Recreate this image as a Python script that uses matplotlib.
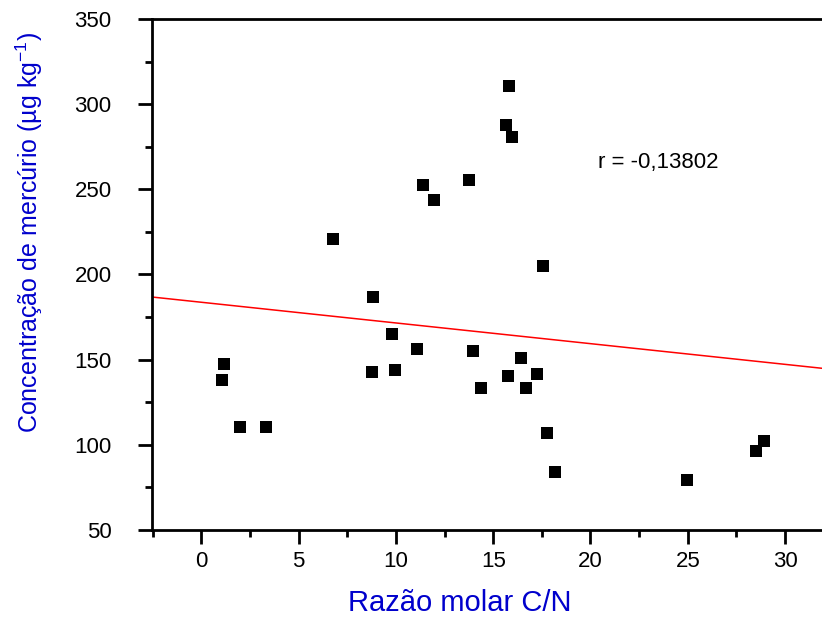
import numpy as np
import matplotlib
matplotlib.use("Agg")
import matplotlib.pyplot as plt
from matplotlib.ticker import MultipleLocator

plt.rcParams['font.family'] = ['Liberation Sans', 'DejaVu Sans']
plt.rcParams['mathtext.fontset'] = 'custom'
plt.rcParams['mathtext.rm'] = 'Liberation Sans'
plt.rcParams['mathtext.it'] = 'Liberation Sans'

## razao molar C/N vs concentracao de mercurio
cn_ratio = [1.16, 1.05, 1.98, 3.31, 6.75, 8.81, 8.76, 9.78, 9.94, 11.1,
            11.38, 11.94, 13.74, 13.94, 14.35, 15.64, 15.79, 15.95, 15.74, 16.41,
            16.67, 17.23, 17.54, 17.75, 18.2, 24.94, 28.53, 28.94]
hg_conc = [147.5, 138, 110.5, 110.5, 221, 187, 143, 165, 144, 156,
           252.6, 243.8, 255.5, 155, 133.4, 287.8, 310.7, 280.8, 140.4, 151,
           133.4, 141.6, 205, 107, 84, 79.4, 96.4, 102.3]
# regression line
fit_intercept = 183.7
fit_slope = -1.215
r_text = "r = -0,13802"

fig = plt.figure(figsize=(8.22, 6.2), dpi=100)
ax = fig.add_axes([152/822, 90/620, 670/822, 511/620])

x = np.array(cn_ratio)
y = np.array(hg_conc)
ax.plot(x, y, 's', color='black', markersize=8, markeredgewidth=0, zorder=3)

xl = np.array([-2.54, 31.9])
ax.plot(xl, fit_intercept + fit_slope * xl, color='red', linewidth=1.1)

ax.set_xlim(-2.54, 31.9)
ax.set_ylim(50, 350)
ax.xaxis.set_major_locator(MultipleLocator(5))
ax.xaxis.set_minor_locator(MultipleLocator(2.5))
ax.yaxis.set_major_locator(MultipleLocator(50))
ax.yaxis.set_minor_locator(MultipleLocator(25))
ax.tick_params(which='major', length=10, width=2, labelsize=16)
ax.tick_params(axis='y', which='major', pad=19)
ax.tick_params(axis='x', which='major', pad=5)
ax.tick_params(which='minor', length=5, width=2)
ax.spines['right'].set_visible(False)
for s in ['left', 'bottom', 'top']:
    ax.spines[s].set_linewidth(2)

ax.set_xlabel("Razão molar C/N", color='#0000CC', fontsize=21)
ax.set_ylabel("Concentração de mercúrio (µg kg$^{-1}$)", color='#0000CC', fontsize=18)
ax.xaxis.set_label_coords(0.46, -0.115)
ax.yaxis.set_label_coords(-0.16, 0.583)
ax.text(20.4, 266, r_text, fontsize=16, va='center')

fig.savefig("out.png", dpi=100)
